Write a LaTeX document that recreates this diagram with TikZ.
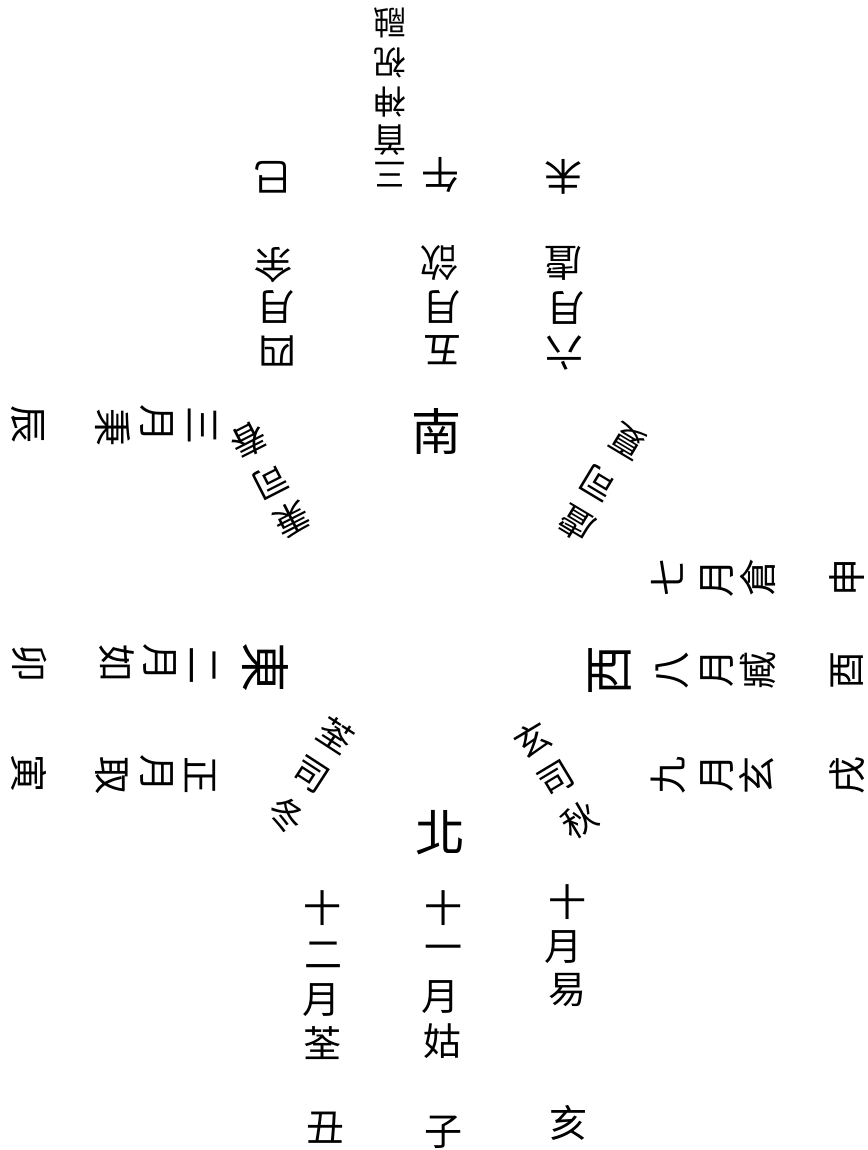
\documentclass[tikz,border=0pt]{standalone}
\usepackage{fontspec}
\newfontfamily\cjk{Noto Sans CJK TC}
\tikzset{
  ch/.style={inner sep=0pt, font=\cjk\fontsize{38}{38}\selectfont},
  small/.style={inner sep=0pt, font=\cjk\fontsize{33}{33}\selectfont},
  corner/.style={inner sep=0pt, font=\cjk\fontsize{35}{35}\selectfont},
  big/.style={inner sep=0pt, font=\cjk\fontsize{50}{50}\selectfont}
}
\begin{document}
\begin{tikzpicture}[x=1pt,y=-1pt]
\useasboundingbox (0,0) rectangle (867,1150);
% North (bottom), upright
\node[big] (bei) at (440,833) {北};
\foreach \c/\x/\y [count=\i] in {十/322/908,二/323/955,月/321/1000,荃/322/1043,丑/325/1128,
  十/443/908,一/443/953,月/440/997,姑/442/1041,子/443/1132,
  十/567/902,月/563/947,易/567/990,亥/568/1123}
  \node[ch] (n\i) at (\x,\y) {\c};
% South (top), upside down
\node[big] (nan) at (436,431) {南};
\foreach \c/\x/\y [count=\i] in {巳/272/177,午/440/175,未/563/177,
  四/277/351,月/275/307,余/273/265,
  五/442/350,月/441/307,欱/439/263,
  六/564/353,月/565/308,虘/563/263}
  \node[ch,rotate=180] (s\i) at (\x,\y) {\c};
\foreach \c/\x/\y [count=\i] in {三/390/175,首/390/140,神/390/102,祝/390/63,融/390/23}
  \node[small,rotate=180] (z\i) at (\x,\y) {\c};
% East (left)
\node[big,rotate=-90] (dong) at (265,667) {東};
\foreach \c/\x/\y [count=\i] in {三/202/425,月/157/423,秉/113/427,辰/28/424,
  二/203/665,月/160/662,如/117/663,卯/30/663,
  正/200/775,月/157/773,取/112/775,寅/29/773}
  \node[ch,rotate=-90] (e\i) at (\x,\y) {\c};
% West (right)
\node[big,rotate=90] (xi) at (610,670) {西};
\foreach \c/\x/\y [count=\i] in {七/667/577,月/717/578,倉/758/577,申/847/577,
  八/672/670,月/717/668,臧/758/670,酉/847/670,
  九/668/775,月/717/773,玄/757/775,戌/847/775}
  \node[ch,rotate=90] (w\i) at (\x,\y) {\c};
% Corners
\foreach \c/\x/\y [count=\i] in {秉/292/519,司/270/481,春/249/440}
  \node[corner,rotate=-153] (ul\i) at (\x,\y) {\c};
\foreach \c/\x/\y [count=\i] in {虘/576/524,司/598/483,夏/628/441}
  \node[corner,rotate=149] (ur\i) at (\x,\y) {\c};
\foreach \c/\x/\y [count=\i] in {玄/532/740,司/556/779,秋/580/820}
  \node[corner,rotate=31] (lr\i) at (\x,\y) {\c};
\foreach \c/\x/\y [count=\i] in {荃/336/735,司/311/775,冬/286/815}
  \node[corner,rotate=-33] (ll\i) at (\x,\y) {\c};
\end{tikzpicture}
\end{document}
